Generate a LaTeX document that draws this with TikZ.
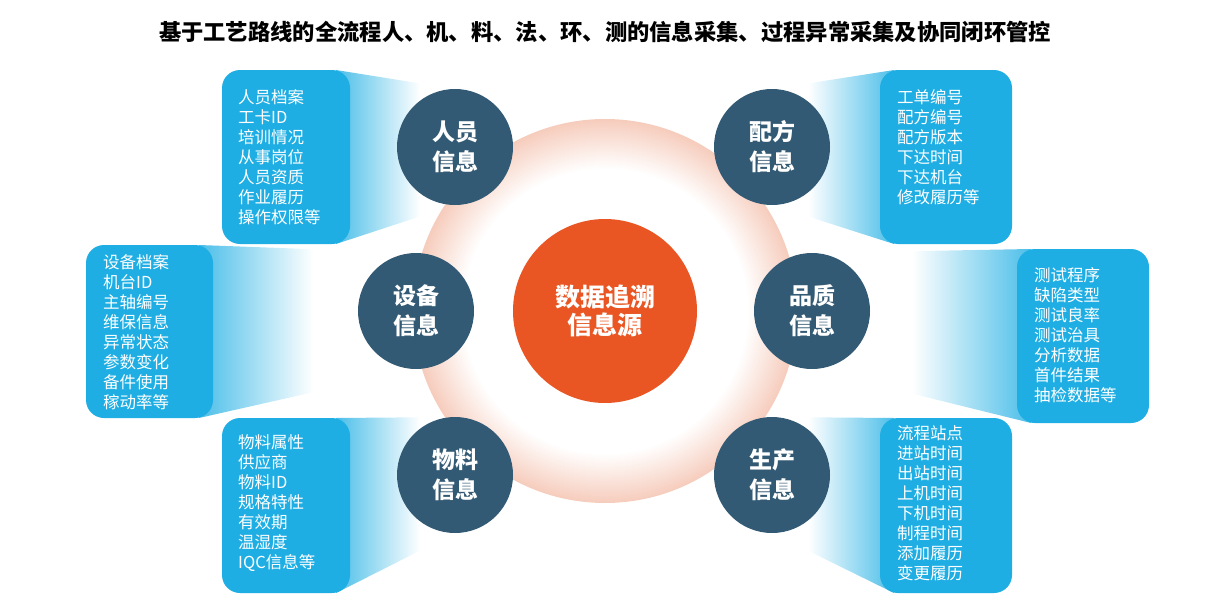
\documentclass[tikz,border=0pt]{standalone}
\usepackage{fontspec}
\setmainfont{Noto Sans CJK SC}
\definecolor{boxblue}{RGB}{30,174,227}
\definecolor{darkc}{RGB}{51,90,116}
\definecolor{orangec}{RGB}{233,86,36}
\definecolor{ringpink}{RGB}{246,204,188}
\pgfdeclareradialshading{ringshade}{\pgfpoint{0bp}{0bp}}{color(0bp)=(white); color(18.5bp)=(white); color(25bp)=(ringpink); color(50bp)=(ringpink)}
\tikzset{
  infobox/.style={fill=boxblue, rounded corners=18pt},
  topic/.style={circle, fill=darkc, minimum size=116pt, inner sep=0pt, text=white, align=center, font=\bfseries\fontsize{23}{30}\selectfont},
  core/.style={circle, fill=orangec, minimum size=184pt, inner sep=0pt, text=white, align=center, font=\bfseries\fontsize{25}{28.5}\selectfont},
  itemtext/.style={anchor=west, inner sep=0pt, text=white, align=left, font=\fontsize{16.5}{20}\selectfont},
  fadeR/.style={left color=boxblue!80, right color=white},
  fadeL/.style={left color=white, right color=boxblue!80},
}
\begin{document}
\begin{tikzpicture}[x=1pt,y=-1pt]
\useasboundingbox (0,0) rectangle (1213,613);
% title
\node[font=\bfseries\fontsize{22.3}{26}\selectfont, inner sep=0pt] (title) at (605,32) {基于工艺路线的全流程人、机、料、法、环、测的信息采集、过程异常采集及协同闭环管控};
% ring
\shade[shading=ringshade] (605,311) circle (192);
% funnels
\begin{scope}\clip (336,70) -- (455,89) -- (455,205) -- (336,244) -- cycle;
\shade[fadeR] (336,60) rectangle (420,260);\end{scope}
\begin{scope}\clip (199,245) -- (416,253) -- (416,369) -- (199,418) -- cycle;
\shade[fadeR] (199,240) rectangle (313,425);\end{scope}
\begin{scope}\clip (336,418) -- (455,417) -- (455,533) -- (336,593) -- cycle;
\shade[fadeR] (336,410) rectangle (420,600);\end{scope}
\begin{scope}\clip (894,70) -- (772,89) -- (772,205) -- (894,244) -- cycle;
\shade[fadeL] (808,60) rectangle (894,260);\end{scope}
\begin{scope}\clip (1031,249) -- (812,253) -- (812,369) -- (1031,423) -- cycle;
\shade[fadeL] (912,240) rectangle (1031,430);\end{scope}
\begin{scope}\clip (894,418) -- (772,417) -- (772,533) -- (894,593) -- cycle;
\shade[fadeL] (808,410) rectangle (894,600);\end{scope}
% boxes
\fill[infobox] (222,70) rectangle (350,244);
\fill[infobox] (86,245) rectangle (213,418);
\fill[infobox] (222,418) rectangle (350,593);
\fill[infobox] (880,70) rectangle (1012,244);
\fill[infobox] (1017,249) rectangle (1149,423);
\fill[infobox] (880,418) rectangle (1012,593);
% box texts
\node[itemtext] (t1) at (238,157) {人员档案\\工卡ID\\培训情况\\从事岗位\\人员资质\\作业履历\\操作权限等};
\node[itemtext] (t2) at (103,332) {设备档案\\机台ID\\主轴编号\\维保信息\\异常状态\\参数变化\\备件使用\\稼动率等};
\node[itemtext] (t3) at (238,503.5) {物料属性\\供应商\\物料ID\\规格特性\\有效期\\温湿度\\IQC信息等};
\node[itemtext] (t4) at (897,147) {工单编号\\配方编号\\配方版本\\下达时间\\下达机台\\修改履历等};
\node[itemtext] (t5) at (1034,335) {测试程序\\缺陷类型\\测试良率\\测试治具\\分析数据\\首件结果\\抽检数据等};
\node[itemtext] (t6) at (897,503.5) {流程站点\\进站时间\\出站时间\\上机时间\\下机时间\\制程时间\\添加履历\\变更履历};
% circles
\node[topic] (c1) at (455,147) {人员\\信息};
\node[topic] (c2) at (416,311) {设备\\信息};
\node[topic] (c3) at (455,475) {物料\\信息};
\node[topic] (c4) at (772,147) {配方\\信息};
\node[topic] (c5) at (812,311) {品质\\信息};
\node[topic] (c6) at (772,475) {生产\\信息};
\node[core] (core) at (605,311) {数据追溯\\信息源};
\end{tikzpicture}
\end{document}
